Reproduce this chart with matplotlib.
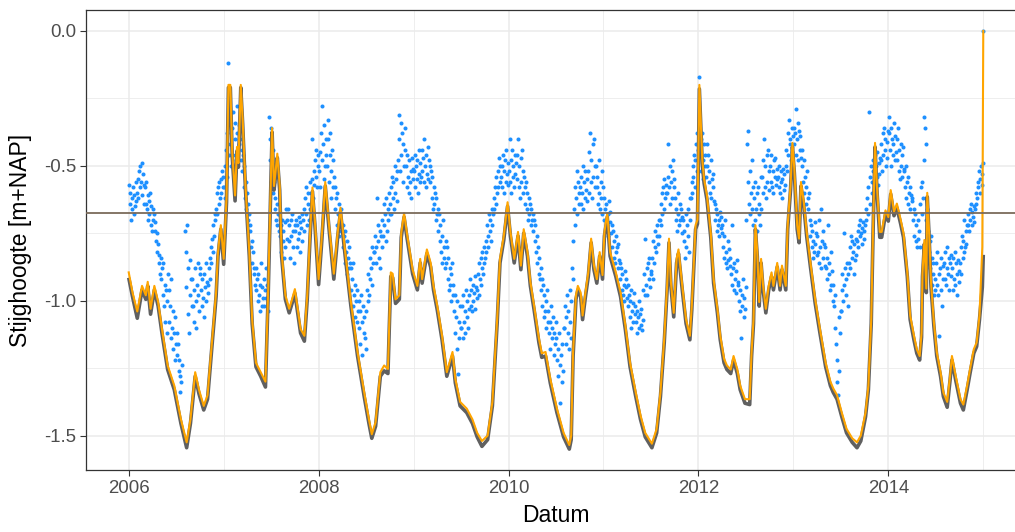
import numpy as np
import matplotlib
matplotlib.use("Agg")
import matplotlib.pyplot as plt
from matplotlib.ticker import MultipleLocator, FormatStrFormatter

plt.rcParams["font.family"] = ["Liberation Sans", "DejaVu Sans"]
plt.rcParams["axes.unicode_minus"] = False

# ---- simulated heads (decimal year, m+NAP) ----
sim_t = [
    2006.000, 2006.040, 2006.090, 2006.140, 2006.180, 2006.200, 2006.230, 2006.270, 2006.310, 2006.350,
    2006.410, 2006.480, 2006.550, 2006.610, 2006.650, 2006.700, 2006.740, 2006.790, 2006.830, 2006.880,
    2006.920, 2006.940, 2006.970, 2007.000, 2007.030, 2007.050, 2007.070, 2007.090, 2007.120, 2007.140,
    2007.155, 2007.180, 2007.200, 2007.230, 2007.270, 2007.300, 2007.340, 2007.390, 2007.440, 2007.470,
    2007.490, 2007.510, 2007.530, 2007.550, 2007.565, 2007.590, 2007.610, 2007.650, 2007.690, 2007.720,
    2007.750, 2007.780, 2007.810, 2007.850, 2007.880, 2007.910, 2007.935, 2007.960, 2008.000, 2008.030,
    2008.070, 2008.110, 2008.160, 2008.200, 2008.230, 2008.280, 2008.340, 2008.410, 2008.480, 2008.530,
    2008.560, 2008.600, 2008.650, 2008.690, 2008.730, 2008.760, 2008.780, 2008.810, 2008.850, 2008.870,
    2008.900, 2008.930, 2008.990, 2009.040, 2009.070, 2009.090, 2009.140, 2009.180, 2009.210, 2009.250,
    2009.300, 2009.350, 2009.410, 2009.440, 2009.490, 2009.560, 2009.620, 2009.670, 2009.720, 2009.780,
    2009.830, 2009.880, 2009.910, 2009.950, 2009.990, 2010.020, 2010.060, 2010.100, 2010.130, 2010.160,
    2010.200, 2010.230, 2010.270, 2010.320, 2010.350, 2010.390, 2010.440, 2010.510, 2010.580, 2010.640,
    2010.660, 2010.680, 2010.710, 2010.730, 2010.760, 2010.780, 2010.810, 2010.840, 2010.870, 2010.900,
    2010.930, 2010.960, 2010.990, 2011.010, 2011.040, 2011.070, 2011.130, 2011.180, 2011.230, 2011.280,
    2011.340, 2011.390, 2011.440, 2011.510, 2011.560, 2011.600, 2011.640, 2011.670, 2011.690, 2011.710,
    2011.740, 2011.770, 2011.790, 2011.830, 2011.870, 2011.910, 2011.930, 2011.970, 2011.990, 2012.010,
    2012.040, 2012.060, 2012.090, 2012.130, 2012.160, 2012.200, 2012.230, 2012.270, 2012.300, 2012.340,
    2012.370, 2012.410, 2012.440, 2012.490, 2012.540, 2012.560, 2012.580, 2012.600, 2012.620, 2012.640,
    2012.660, 2012.680, 2012.710, 2012.740, 2012.770, 2012.790, 2012.830, 2012.860, 2012.880, 2012.920,
    2012.940, 2012.970, 2012.990, 2013.010, 2013.040, 2013.060, 2013.080, 2013.110, 2013.140, 2013.180,
    2013.230, 2013.280, 2013.340, 2013.390, 2013.420, 2013.460, 2013.510, 2013.560, 2013.620, 2013.670,
    2013.710, 2013.760, 2013.790, 2013.820, 2013.840, 2013.860, 2013.880, 2013.910, 2013.930, 2013.970,
    2014.000, 2014.025, 2014.060, 2014.090, 2014.130, 2014.160, 2014.200, 2014.230, 2014.270, 2014.300,
    2014.330, 2014.350, 2014.360, 2014.380, 2014.400, 2014.410, 2014.430, 2014.450, 2014.480, 2014.510,
    2014.550, 2014.580, 2014.620, 2014.650, 2014.670, 2014.710, 2014.760, 2014.790, 2014.830, 2014.860,
    2014.900, 2014.930, 2014.960, 2014.990, 2015.000,
]

sim_orange = [
    -0.895, -0.970, -1.040, -0.945, -0.980, -0.930, -1.030, -0.945, -1.005, -1.105,
    -1.240, -1.315, -1.440, -1.525, -1.440, -1.265, -1.330, -1.390, -1.350, -1.140,
    -0.970, -0.820, -0.720, -0.845, -0.620, -0.200, -0.200, -0.450, -0.610, -0.430,
    -0.490, -0.200, -0.330, -0.575, -0.820, -1.070, -1.230, -1.265, -1.300, -0.945,
    -0.650, -0.360, -0.575, -0.510, -0.455, -0.575, -0.820, -0.980, -1.030, -0.995,
    -0.957, -1.030, -1.105, -1.130, -0.980, -0.750, -0.580, -0.700, -0.920, -0.780,
    -0.560, -0.720, -0.900, -0.750, -0.655, -0.820, -1.005, -1.190, -1.340, -1.440,
    -1.495, -1.450, -1.265, -1.240, -1.253, -0.895, -0.900, -0.995, -0.980, -0.750,
    -0.675, -0.750, -0.885, -0.945, -0.845, -0.920, -0.810, -0.860, -0.945, -1.020,
    -1.130, -1.265, -1.190, -1.290, -1.375, -1.400, -1.440, -1.490, -1.520, -1.500,
    -1.375, -1.070, -0.845, -0.760, -0.635, -0.745, -0.845, -0.745, -0.870, -0.735,
    -0.820, -0.930, -1.020, -1.140, -1.195, -1.190, -1.290, -1.400, -1.490, -1.535,
    -1.500, -1.190, -0.980, -0.945, -0.970, -1.055, -0.970, -0.895, -0.770, -0.870,
    -0.920, -0.820, -0.905, -0.745, -0.675, -0.820, -0.895, -0.970, -1.090, -1.230,
    -1.340, -1.425, -1.490, -1.530, -1.475, -1.340, -1.140, -0.945, -0.770, -0.930,
    -1.045, -0.845, -0.810, -0.945, -1.070, -1.130, -1.020, -0.720, -0.700, -0.200,
    -0.475, -0.550, -0.610, -0.750, -0.920, -1.030, -1.130, -1.215, -1.240, -1.255,
    -1.205, -1.255, -1.315, -1.365, -1.365, -1.190, -1.070, -0.720, -0.820, -1.005,
    -0.845, -0.940, -1.030, -0.945, -0.895, -0.945, -0.860, -0.945, -0.870, -0.945,
    -0.720, -0.575, -0.415, -0.510, -0.720, -0.770, -0.560, -0.635, -0.745, -0.860,
    -0.995, -1.105, -1.230, -1.300, -1.325, -1.350, -1.415, -1.475, -1.510, -1.525,
    -1.500, -1.415, -1.315, -1.070, -0.720, -0.415, -0.575, -0.745, -0.745, -0.665,
    -0.690, -0.590, -0.670, -0.640, -0.700, -0.750, -0.895, -1.055, -1.130, -1.180,
    -1.205, -1.120, -0.895, -0.775, -0.955, -0.600, -0.750, -0.935, -1.080, -1.190,
    -1.265, -1.340, -1.375, -1.280, -1.205, -1.280, -1.365, -1.385, -1.315, -1.255,
    -1.180, -1.155, -1.055, -0.800, 0.000,
]

sim_grey = [
    -0.915, -0.985, -1.065, -0.960, -0.995, -0.945, -1.050, -0.960, -1.020, -1.120,
    -1.255, -1.330, -1.455, -1.545, -1.455, -1.280, -1.345, -1.405, -1.365, -1.155,
    -0.985, -0.835, -0.735, -0.865, -0.635, -0.210, -0.210, -0.465, -0.630, -0.445,
    -0.505, -0.210, -0.345, -0.590, -0.835, -1.085, -1.245, -1.280, -1.320, -0.960,
    -0.665, -0.375, -0.590, -0.525, -0.470, -0.590, -0.835, -0.995, -1.045, -1.010,
    -0.972, -1.045, -1.120, -1.150, -0.995, -0.765, -0.595, -0.715, -0.940, -0.795,
    -0.575, -0.735, -0.920, -0.765, -0.670, -0.835, -1.020, -1.205, -1.355, -1.455,
    -1.510, -1.465, -1.280, -1.260, -1.270, -0.910, -0.915, -1.010, -0.995, -0.765,
    -0.690, -0.765, -0.900, -0.960, -0.860, -0.935, -0.825, -0.875, -0.960, -1.035,
    -1.145, -1.280, -1.205, -1.305, -1.390, -1.415, -1.455, -1.505, -1.540, -1.515,
    -1.390, -1.085, -0.860, -0.775, -0.650, -0.760, -0.860, -0.760, -0.885, -0.750,
    -0.835, -0.945, -1.035, -1.155, -1.210, -1.205, -1.305, -1.415, -1.505, -1.550,
    -1.515, -1.205, -0.995, -0.960, -0.985, -1.070, -0.985, -0.910, -0.785, -0.885,
    -0.935, -0.835, -0.920, -0.760, -0.690, -0.835, -0.910, -0.985, -1.105, -1.245,
    -1.355, -1.440, -1.505, -1.545, -1.490, -1.355, -1.155, -0.960, -0.785, -0.945,
    -1.060, -0.860, -0.825, -0.960, -1.085, -1.145, -1.035, -0.735, -0.715, -0.215,
    -0.490, -0.565, -0.625, -0.765, -0.935, -1.045, -1.145, -1.230, -1.255, -1.270,
    -1.220, -1.270, -1.330, -1.380, -1.385, -1.205, -1.085, -0.735, -0.835, -1.020,
    -0.860, -0.955, -1.045, -0.960, -0.910, -0.960, -0.875, -0.960, -0.885, -0.960,
    -0.735, -0.590, -0.430, -0.525, -0.735, -0.785, -0.575, -0.650, -0.760, -0.875,
    -1.010, -1.120, -1.245, -1.315, -1.340, -1.365, -1.430, -1.490, -1.525, -1.545,
    -1.520, -1.430, -1.330, -1.085, -0.735, -0.430, -0.590, -0.765, -0.765, -0.680,
    -0.705, -0.605, -0.685, -0.655, -0.715, -0.765, -0.910, -1.070, -1.145, -1.195,
    -1.220, -1.135, -0.910, -0.790, -0.970, -0.615, -0.765, -0.950, -1.095, -1.205,
    -1.280, -1.355, -1.395, -1.295, -1.220, -1.295, -1.380, -1.405, -1.330, -1.270,
    -1.195, -1.170, -1.070, -0.950, -0.830,
]

# ---- observed heads: twelve readings per month, Jan..Dec ----
obs_2006 = [
    [-0.57, -0.64, -0.60, -0.70, -0.62, -0.66, -0.58, -0.68, -0.61, -0.65, -0.56, -0.63],
    [-0.60, -0.55, -0.62, -0.52, -0.58, -0.50, -0.56, -0.49, -0.61, -0.53, -0.64, -0.57],
    [-0.58, -0.64, -0.56, -0.66, -0.61, -0.70, -0.63, -0.68, -0.60, -0.72, -0.65, -0.74],
    [-0.66, -0.70, -0.68, -0.74, -0.71, -0.78, -0.75, -0.82, -0.79, -0.86, -0.83, -0.90],
    [-0.84, -0.92, -0.88, -0.98, -0.86, -1.02, -0.94, -1.08, -0.96, -1.12, -1.00, -0.90],
    [-0.96, -1.08, -1.02, -1.14, -0.92, -1.10, -1.18, -1.04, -1.12, -1.22, -1.06, -1.16],
    [-1.12, -1.20, -1.16, -1.26, -1.22, -1.34, -1.28, -1.30, -1.24, None, None, None],
    [None, -0.74, -0.82, -0.95, -0.72, -1.05, -0.88, -1.12, -0.98, -0.85, -0.92, -1.02],
    [-0.92, -1.02, -0.96, -1.08, -0.88, -1.00, -1.10, -0.94, -0.86, -0.98, -1.04, -0.90],
    [-0.88, -0.96, -1.02, -0.92, -0.99, -1.06, -0.90, -0.95, -0.86, -1.00, -0.93, -0.97],
    [-0.94, -0.88, -0.92, -0.84, -0.86, -0.80, -0.77, -0.82, -0.72, -0.76, -0.68, -0.70],
    [-0.66, -0.60, -0.68, -0.58, -0.64, -0.56, -0.62, -0.55, -0.60, -0.52, -0.58, -0.54],
]
obs_2007 = [
    [-0.58, -0.50, -0.62, -0.44, -0.54, -0.38, -0.12, -0.46, -0.34, -0.42, -0.30, -0.50],
    [-0.36, -0.46, -0.30, -0.52, -0.40, -0.34, -0.48, -0.38, -0.28, -0.44, -0.35, -0.42],
    [-0.40, -0.34, -0.48, -0.44, -0.52, -0.46, -0.58, -0.50, -0.62, -0.56, -0.66, -0.60],
    [-0.64, -0.70, -0.68, -0.74, -0.72, -0.80, -0.78, -0.86, -0.82, -0.90, -0.88, -0.94],
    [-0.88, -0.96, -0.92, -1.00, -0.90, -0.98, -1.04, -0.94, -0.86, -1.02, -0.95, -0.99],
    [-0.92, -1.02, -0.96, -0.88, -0.99, -0.94, -1.04, None, -0.32, -0.40, -0.48, -0.56],
    [-0.36, -0.52, -0.44, -0.60, -0.56, -0.66, -0.62, -0.70, -0.64, -0.72, -0.68, -0.74],
    [-0.68, -0.76, -0.72, -0.82, -0.70, -0.78, -0.74, -0.84, -0.71, -0.80, -0.66, -0.77],
    [-0.70, -0.66, -0.78, -0.72, -0.84, -0.76, -0.70, -0.68, -0.80, -0.74, -0.86, -0.72],
    [-0.74, -0.70, -0.80, -0.72, -0.77, -0.69, -0.75, -0.71, -0.82, -0.73, -0.78, -0.68],
    [-0.70, -0.66, -0.74, -0.62, -0.68, -0.58, -0.72, -0.64, -0.60, -0.70, -0.56, -0.66],
    [-0.60, -0.55, -0.40, -0.62, -0.52, -0.57, -0.48, -0.54, -0.44, -0.58, -0.50, -0.46],
]
obs_2008 = [
    [-0.52, -0.45, -0.58, -0.38, -0.28, -0.48, -0.42, -0.55, -0.35, -0.50, -0.40, -0.46],
    [-0.50, -0.40, -0.33, -0.56, -0.46, -0.38, -0.62, -0.52, -0.44, -0.58, -0.48, -0.54],
    [-0.58, -0.66, -0.62, -0.72, -0.60, -0.68, -0.64, -0.76, -0.70, -0.66, -0.74, -0.72],
    [-0.72, -0.80, -0.76, -0.86, -0.74, -0.82, -0.78, -0.90, -0.84, -0.80, -0.88, -0.86],
    [-0.88, -0.96, -0.92, -1.02, -0.86, -0.98, -0.94, -1.06, -1.00, -1.08, -0.96, -1.04],
    [-1.00, -1.10, -1.04, -1.16, -0.98, -1.08, -1.20, -1.02, -1.12, -1.06, -1.14, -1.18],
    [-1.04, -0.96, -1.00, -0.90, -0.98, -0.84, -0.92, -0.88, -0.80, -0.94, -0.86, -0.82],
    [-0.82, -0.76, -0.86, -0.80, -0.62, -0.78, -0.72, -0.84, -0.74, -0.88, -0.76, -0.80],
    [-0.70, -0.76, -0.64, -0.72, -0.68, -0.78, -0.62, -0.74, -0.66, -0.70, -0.60, -0.68],
    [-0.64, -0.58, -0.68, -0.54, -0.62, -0.56, -0.66, -0.50, -0.60, -0.55, -0.63, -0.52],
    [-0.48, -0.31, -0.40, -0.52, -0.34, -0.46, -0.38, -0.56, -0.42, -0.50, -0.36, -0.44],
    [-0.50, -0.58, -0.46, -0.54, -0.60, -0.48, -0.56, -0.52, -0.62, -0.47, -0.55, -0.51],
]
obs_2009 = [
    [-0.52, -0.46, -0.58, -0.50, -0.55, -0.48, -0.60, -0.53, -0.44, -0.56, -0.49, -0.54],
    [-0.44, -0.52, -0.47, -0.56, -0.40, -0.50, -0.58, -0.46, -0.53, -0.43, -0.55, -0.48],
    [-0.50, -0.56, -0.52, -0.62, -0.54, -0.66, -0.58, -0.64, -0.60, -0.70, -0.62, -0.68],
    [-0.66, -0.74, -0.68, -0.78, -0.72, -0.82, -0.76, -0.86, -0.70, -0.84, -0.80, -0.88],
    [-0.78, -0.86, -0.80, -0.92, -0.84, -0.96, -0.88, -0.94, -0.90, -1.00, -0.86, -0.98],
    [-0.94, -1.04, -0.98, -1.12, -1.06, -1.18, -1.00, -1.27, -1.08, -1.14, -1.02, -1.10],
    [-1.10, -1.02, -1.14, -0.98, -1.08, -1.04, -1.12, -0.96, -1.06, -1.00, -1.10, -1.03],
    [-0.98, -0.92, -1.02, -0.96, -1.04, -0.94, -1.00, -0.97, -0.91, -1.03, -0.95, -0.99],
    [-0.96, -0.90, -0.98, -0.86, -0.92, -0.84, -0.94, -0.88, -0.82, -0.90, -0.86, -0.80],
    [-0.84, -0.78, -0.82, -0.72, -0.80, -0.76, -0.68, -0.74, -0.70, -0.78, -0.66, -0.72],
    [-0.68, -0.62, -0.66, -0.58, -0.64, -0.54, -0.60, -0.52, -0.58, -0.47, -0.56, -0.50],
    [-0.54, -0.50, -0.58, -0.46, -0.52, -0.60, -0.48, -0.56, -0.44, -0.53, -0.49, -0.57],
]
obs_2010 = [
    [-0.52, -0.40, -0.56, -0.48, -0.60, -0.44, -0.54, -0.50, -0.58, -0.46, -0.53, -0.49],
    [-0.46, -0.55, -0.40, -0.58, -0.50, -0.62, -0.47, -0.56, -0.44, -0.52, -0.60, -0.54],
    [-0.58, -0.64, -0.56, -0.66, -0.60, -0.70, -0.62, -0.68, -0.64, -0.72, -0.66, -0.70],
    [-0.68, -0.74, -0.70, -0.78, -0.72, -0.82, -0.76, -0.86, -0.80, -0.90, -0.84, -0.92],
    [-0.88, -0.96, -0.92, -1.02, -0.94, -1.06, -0.98, -1.04, -1.00, -1.10, -0.96, -1.08],
    [-1.04, -1.12, -1.08, -1.18, -1.02, -1.10, -1.14, -1.06, -1.20, -1.12, -1.16, -1.08],
    [-1.14, -1.22, -1.18, -1.28, -1.12, -1.24, -1.38, -1.20, -1.30, -1.16, -1.26, -1.10],
    [-1.10, -1.02, -1.16, -1.06, -0.98, -1.12, -1.04, -1.18, -0.96, -1.08, -1.00, -1.14],
    [-0.88, -0.78, -0.92, -0.66, -0.58, -0.72, -0.62, -0.52, -0.68, -0.56, -0.64, -0.60],
    [-0.58, -0.64, -0.54, -0.60, -0.50, -0.66, -0.56, -0.62, -0.52, -0.59, -0.55, -0.63],
    [-0.52, -0.60, -0.45, -0.38, -0.56, -0.48, -0.62, -0.42, -0.54, -0.40, -0.58, -0.50],
    [-0.50, -0.58, -0.54, -0.64, -0.48, -0.60, -0.66, -0.56, -0.62, -0.52, -0.68, -0.58],
]
obs_2011 = [
    [-0.62, -0.70, -0.66, -0.74, -0.64, -0.72, -0.68, -0.76, -0.63, -0.71, -0.67, -0.75],
    [-0.72, -0.80, -0.74, -0.84, -0.78, -0.86, -0.76, -0.82, -0.80, -0.88, -0.79, -0.85],
    [-0.86, -0.92, -0.88, -0.96, -0.90, -0.98, -0.94, -1.00, -0.89, -0.95, -0.92, -0.99],
    [-0.94, -1.02, -0.98, -1.06, -1.00, -1.10, -0.96, -1.04, -1.01, -1.08, -0.97, -1.05],
    [-1.02, -1.08, -1.04, -1.12, -1.06, -1.00, -1.10, -1.05, -1.09, -1.03, -1.11, -1.07],
    [-0.96, -0.90, -0.98, -0.77, -0.94, -0.88, -0.98, -0.86, -0.92, -0.84, -0.95, -0.89],
    [-0.90, -0.84, -0.92, -0.78, -0.86, -0.80, -0.74, -0.82, -0.76, -0.72, -0.79, -0.70],
    [-0.76, -0.70, -0.64, -0.72, -0.60, -0.68, -0.58, -0.66, -0.55, -0.62, -0.57, -0.60],
    [-0.60, -0.54, -0.42, -0.58, -0.50, -0.64, -0.56, -0.52, -0.62, -0.48, -0.58, -0.55],
    [-0.62, -0.70, -0.66, -0.74, -0.60, -0.68, -0.72, -0.64, -0.70, -0.66, -0.75, -0.69],
    [-0.70, -0.78, -0.74, -0.84, -0.68, -0.80, -0.72, -0.66, -0.76, -0.82, -0.70, -0.62],
    [-0.62, -0.56, -0.60, -0.50, -0.54, -0.46, -0.58, -0.48, -0.42, -0.52, -0.38, -0.44],
]
obs_2012 = [
    [-0.17, -0.36, -0.44, -0.40, -0.52, -0.38, -0.48, -0.55, -0.42, -0.50, -0.46, -0.54],
    [-0.42, -0.50, -0.46, -0.56, -0.52, -0.60, -0.48, -0.62, -0.55, -0.58, -0.53, -0.63],
    [-0.64, -0.70, -0.66, -0.74, -0.68, -0.72, -0.76, -0.70, -0.67, -0.73, -0.69, -0.75],
    [-0.72, -0.80, -0.76, -0.84, -0.70, -0.86, -0.82, -0.88, -0.78, -0.85, -0.81, -0.87],
    [-0.84, -0.90, -0.72, -0.94, -0.88, -0.96, -0.86, -0.92, -0.89, -0.97, -0.85, -0.93],
    [-0.94, -1.00, -0.96, -1.04, -1.14, -0.98, -1.02, -0.92, -1.06, -0.99, -1.03, -0.95],
    [-0.70, -0.42, -0.56, -0.37, -0.64, -0.52, -0.68, -0.60, -0.48, -0.66, -0.58, -0.72],
    [-0.62, -0.70, -0.56, -0.66, -0.74, -0.60, -0.58, -0.68, -0.64, -0.72, -0.54, -0.66],
    [-0.54, -0.60, -0.48, -0.40, -0.58, -0.50, -0.62, -0.46, -0.56, -0.44, -0.52, -0.59],
    [-0.50, -0.56, -0.46, -0.58, -0.52, -0.60, -0.48, -0.54, -0.47, -0.57, -0.51, -0.55],
    [-0.54, -0.58, -0.50, -0.60, -0.56, -0.52, -0.62, -0.55, -0.51, -0.59, -0.53, -0.57],
    [-0.50, -0.44, -0.52, -0.38, -0.46, -0.33, -0.42, -0.40, -0.48, -0.36, -0.45, -0.39],
]
obs_2013 = [
    [-0.36, -0.42, -0.38, -0.29, -0.46, -0.40, -0.34, -0.48, -0.37, -0.44, -0.39, -0.47],
    [-0.44, -0.50, -0.56, -0.48, -0.60, -0.54, -0.64, -0.58, -0.52, -0.62, -0.66, -0.60],
    [-0.70, -0.76, -0.72, -0.80, -0.74, -0.84, -0.78, -0.82, -0.71, -0.79, -0.75, -0.83],
    [-0.76, -0.82, -0.70, -0.86, -0.80, -0.66, -0.88, -0.78, -0.74, -0.84, -0.79, -0.87],
    [-0.80, -0.88, -0.84, -0.92, -0.72, -0.90, -0.86, -0.96, -0.82, -0.94, -0.89, -1.00],
    [-0.94, -1.02, -0.98, -1.10, -1.16, -1.30, -1.22, -1.35, -1.06, -1.26, -1.12, -1.04],
    [-1.04, -0.96, -0.90, -1.00, -0.75, -0.94, -0.88, -0.98, -0.92, -0.86, -1.02, -0.90],
    [-0.86, -0.80, -0.88, -0.76, -0.84, -0.78, -0.82, -0.90, -0.79, -0.85, -0.77, -0.83],
    [-0.78, -0.74, -0.80, -0.72, -0.76, -0.70, -0.75, -0.73, -0.79, -0.71, -0.77, -0.74],
    [-0.72, -0.66, -0.70, -0.62, -0.68, -0.58, -0.30, -0.54, -0.64, -0.50, -0.60, -0.56],
    [-0.52, -0.48, -0.56, -0.46, -0.58, -0.50, -0.54, -0.45, -0.57, -0.49, -0.53, -0.47],
    [-0.48, -0.42, -0.52, -0.38, -0.46, -0.36, -0.44, -0.40, -0.50, -0.41, -0.47, -0.37],
]
obs_2014 = [
    [-0.38, -0.32, -0.44, -0.36, -0.50, -0.40, -0.46, -0.42, -0.34, -0.48, -0.39, -0.45],
    [-0.40, -0.48, -0.36, -0.52, -0.44, -0.55, -0.42, -0.50, -0.46, -0.54, -0.43, -0.51],
    [-0.52, -0.58, -0.50, -0.62, -0.56, -0.64, -0.54, -0.60, -0.58, -0.66, -0.61, -0.63],
    [-0.62, -0.70, -0.66, -0.76, -0.68, -0.78, -0.72, -0.80, -0.70, -0.77, -0.74, -0.80],
    [-0.64, -0.58, -0.68, -0.56, -0.62, -0.48, -0.32, -0.36, -0.42, -0.70, -0.66, -0.78],
    [-0.74, -0.82, -0.78, -0.88, -0.76, -0.84, -0.94, -0.90, -0.86, -0.98, -0.92, -0.96],
    [-0.86, -0.94, -0.82, -0.98, -0.90, -1.13, -0.88, -0.96, -0.84, -1.02, -0.92, -0.87],
    [-0.86, -0.92, -0.82, -0.94, -0.88, -0.80, -0.90, -0.84, -0.96, -0.86, -0.91, -0.83],
    [-0.88, -0.96, -0.84, -0.92, -0.82, -0.94, -0.86, -0.90, -0.98, -0.85, -0.93, -0.89],
    [-0.86, -0.80, -0.90, -0.76, -0.84, -0.78, -0.82, -0.70, -0.80, -0.74, -0.79, -0.72],
    [-0.72, -0.68, -0.74, -0.66, -0.70, -0.64, -0.72, -0.67, -0.69, -0.65, -0.71, -0.66],
    [-0.64, -0.60, -0.62, -0.56, -0.58, -0.52, -0.60, -0.55, -0.50, -0.57, -0.53, -0.49],
]
obs_years = [2006, 2007, 2008, 2009, 2010, 2011, 2012, 2013, 2014]
obs_last_t = [2015.0]
obs_last_v = [0.0]

ref_level = -0.675

x_ticks = [2006, 2008, 2010, 2012, 2014]
y_ticks = [-1.5, -1.0, -0.5, 0.0]

# ---- spread monthly readings over each month ----
obs_tables = [obs_2006, obs_2007, obs_2008, obs_2009, obs_2010,
              obs_2011, obs_2012, obs_2013, obs_2014]
obs_t, obs_v = [], []
for yr, table in zip(obs_years, obs_tables):
    for m, row in enumerate(table):
        n = len(row)
        for k, v in enumerate(row):
            if v is None:
                continue
            obs_t.append(yr + (m + (k + 0.5) / n) / 12.0)
            obs_v.append(v)
obs_t += obs_last_t
obs_v += obs_last_v

# ---- figure ----
W, H = 1015, 532
fig = plt.figure(figsize=(W / 100, H / 100), dpi=100)
# panel runs past the right edge of the canvas
ax = fig.add_axes([86 / W, 62 / H, 940 / W, 460 / H])

ax.scatter(obs_t, obs_v, s=8.5, color="#1E90FF", linewidths=0, zorder=2)
ax.plot(sim_t, sim_grey, color="#606060", lw=2.6, zorder=3,
        solid_joinstyle="round", solid_capstyle="butt")
ax.plot(sim_t, sim_orange, color="#FFA500", lw=1.5, zorder=4,
        solid_joinstyle="round")
ax.axhline(ref_level, color="#7B6B5A", lw=1.3, zorder=5)

ax.set_xlim(2005.55, 2015.45)
ax.set_ylim(-1.6275, 0.0775)

ax.set_xticks(x_ticks)
ax.set_yticks(y_ticks)
ax.xaxis.set_major_formatter(FormatStrFormatter("%d"))
ax.yaxis.set_major_formatter(FormatStrFormatter("%.1f"))
ax.xaxis.set_minor_locator(MultipleLocator(1))
ax.yaxis.set_minor_locator(MultipleLocator(0.25))

ax.set_axisbelow(True)
ax.grid(which="major", color="#EBEBEB", lw=1.1)
ax.grid(which="minor", color="#EBEBEB", lw=0.6)

ax.tick_params(which="major", length=4.0, width=0.8, color="#333333",
               labelsize=13.4, labelcolor="#4D4D4D", pad=3)
ax.tick_params(which="minor", length=0)

for s in ax.spines.values():
    s.set_color("#333333")
    s.set_linewidth(0.9)

ax.set_xlabel("Datum", fontsize=16.5, color="black", labelpad=5)
ax.set_ylabel("Stijghoogte [m+NAP]", fontsize=16.5, color="black", labelpad=9)

fig.savefig("out.png", dpi=100)
